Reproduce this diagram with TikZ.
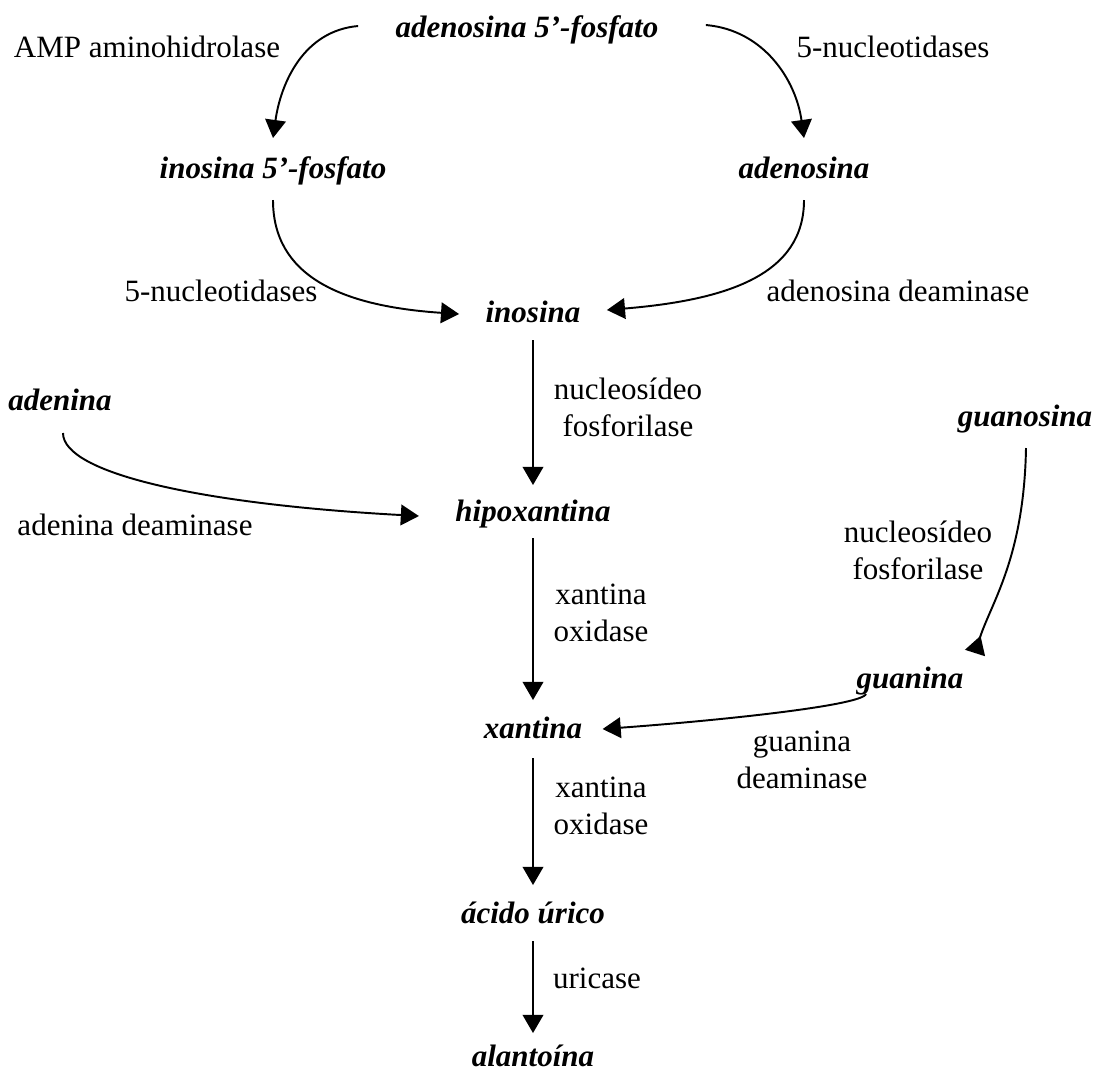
\documentclass[tikz,border=0pt]{standalone}
\usepackage{fontspec}
\setmainfont{Liberation Serif}
\usetikzlibrary{arrows.meta,calc}

\begin{document}
\begin{tikzpicture}[x=0.387pt,y=-0.387pt,
    cmp/.style={font=\fontsize{12}{14.4}\selectfont\bfseries\itshape, inner sep=0pt, anchor=base},
    enz/.style={font=\fontsize{12}{14.4}\selectfont, inner sep=0pt, anchor=base},
    enz2/.style={font=\fontsize{12}{14.4}\selectfont, align=center, inner sep=0pt},
    arr/.style={-{Triangle[width=8pt,length=7pt]}, line width=0.75pt},
    sarr/.style={-{Triangle[width=8pt,length=7pt]}, line width=0.55pt}]
  \useasboundingbox (0,0) rectangle (1096,1070);

  % compostos
  \node[cmp] (a5f) at (527,37) {adenosina 5’-fosfato};
  \node[cmp] (i5f) at (273,178) {inosina 5’-fosfato};
  \node[cmp] (ado) at (804,178) {adenosina};
  \node[cmp] (ino) at (533,322) {inosina};
  \node[cmp] (ade) at (60,410) {adenina};
  \node[cmp] (guo) at (1025,426) {guanosina};
  \node[cmp] (hyp) at (533,521) {hipoxantina};
  \node[cmp] (gua) at (910,688) {guanina};
  \node[cmp] (xan) at (533,738) {xantina};
  \node[cmp] (uri) at (533,923) {ácido úrico};
  \node[cmp] (ala) at (533,1066) {alantoína};

  % enzimas
  \node[enz] (amp) at (147,57) {AMP aminohidrolase};
  \node[enz] (nt1) at (893,57) {5-nucleotidases};
  \node[enz] (nt2) at (221,301) {5-nucleotidases};
  \node[enz] (ada) at (898,301) {adenosina deaminase};
  \node[enz2] (np1) at (628,407) {nucleosídeo\\fosforilase};
  \node[enz] (adl) at (135,535) {adenina deaminase};
  \node[enz2] (np2) at (918,550) {nucleosídeo\\fosforilase};
  \node[enz2] (xo1) at (601,613) {xantina\\oxidase};
  \node[enz2] (gdl) at (802,760) {guanina\\deaminase};
  \node[enz2] (xo2) at (601,806) {xantina\\oxidase};
  \node[enz] (urc) at (597,988) {uricase};

  % reacoes
  \draw[arr] ($(a5f.base west)+(-37,-11)$) to[out=185,in=82] ($(i5f.base)+(0,-40)$);
  \draw[arr] ($(a5f.base east)+(47,-12)$) to[out=-5,in=98] ($(ado.base)+(0,-40)$);
  \draw[arr] ($(i5f.base)+(0,22)$) .. controls +(0,75) and +(-120,-8) .. ($(ino.base west)+(-26,-8)$);
  \draw[arr] ($(ado.base)+(0,22)$) .. controls +(0,75) and +(120,-10) .. ($(ino.base east)+(26,-12)$);
  \draw[sarr] ($(ino.base)+(0,18)$) -- ($(hyp.base)+(0,-36)$);
  \draw[arr] ($(ade.base)+(3,23)$) .. controls +(0,40) and +(-220,-12) .. ($(hyp.base west)+(-36,-5)$);
  \draw[line width=0.75pt,-{Triangle[width=8pt,length=7pt,reversed]}] ($(guo.base)+(1,22)$) .. controls +(-2,110) and +(16,-50) .. ($(gua.base)+(65,-35)$);
  \draw[sarr] ($(hyp.base)+(0,17)$) -- ($(xan.base)+(0,-38)$);
  \draw[arr] ($(gua.base)+(-44,6)$) .. controls +(-5,12) and +(110,-8) .. ($(xan.base east)+(20,-9)$);
  \draw[sarr] ($(xan.base)+(0,20)$) -- ($(uri.base)+(0,-38)$);
  \draw[sarr] ($(uri.base)+(0,18)$) -- ($(ala.base)+(0,-33)$);
\end{tikzpicture}
\end{document}
